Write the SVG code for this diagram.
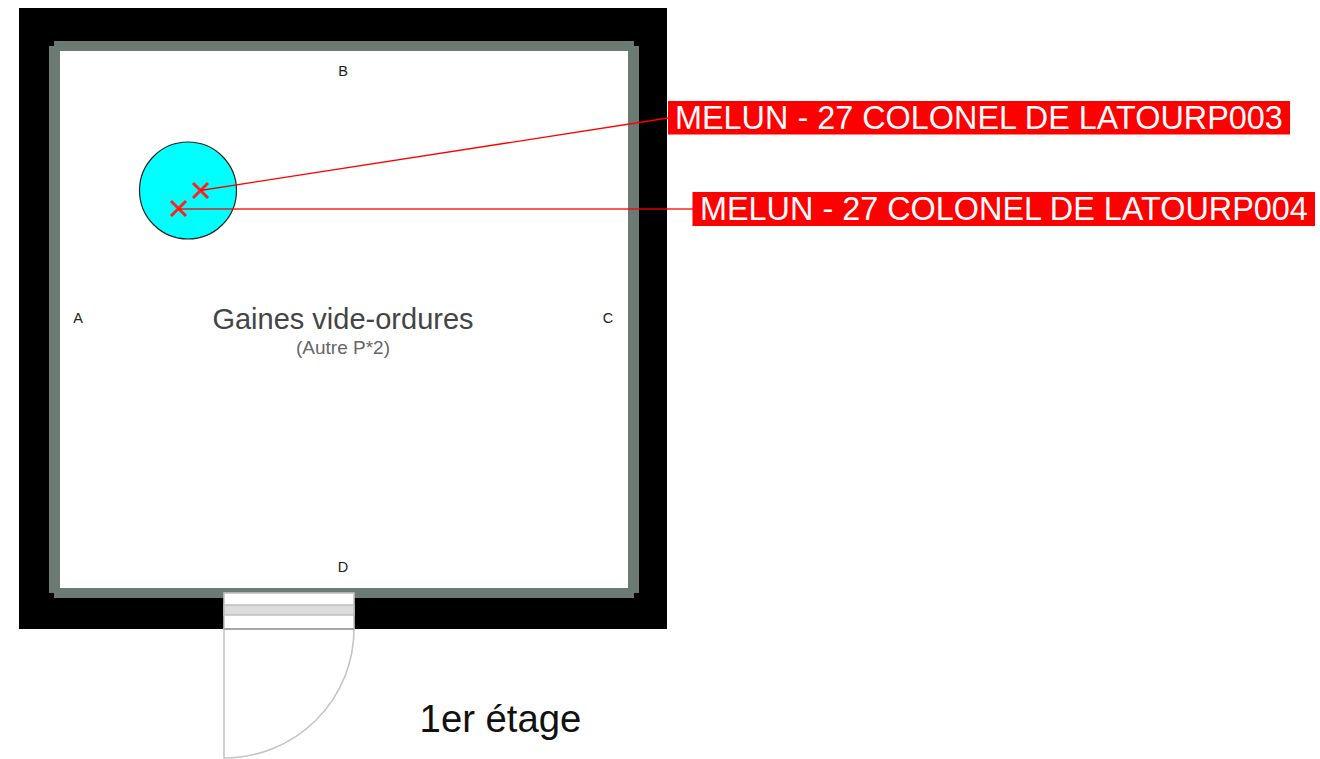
<svg xmlns="http://www.w3.org/2000/svg" width="1320" height="759" viewBox="0 0 1320 759">
<style>
text{font-family:"Liberation Sans",Arial,sans-serif}
.tag{fill:#fff;font-size:32.400px}
.wl{fill:#222;font-size:14.500px;text-anchor:middle}
.x{stroke:#f22;stroke-width:3;fill:none}
.d{stroke:#c4c4c4;stroke-width:1.600;fill:#fff}
.g{fill:#6b7a72}
</style>
<rect width="1320" height="759" fill="#fff"/>
<g id="room">
<rect x="19" y="8" width="648" height="621" fill="#000"/>
<rect x="60" y="51" width="568" height="537" fill="#fff"/>
<rect class="g" x="54" y="41" width="580" height="10"/>
<rect class="g" x="54" y="588" width="580" height="10"/>
<rect class="g" x="49" y="46" width="11" height="547"/>
<rect class="g" x="628" y="46" width="11" height="547"/>
</g>
<g id="door">
<path class="d" d="M224 629H354A130 129 0 0 1 224 758Z"/>
<rect class="d" x="224" y="593" width="130" height="36"/>
<rect x="224" y="605" width="130" height="10" fill="#dcdcdc" stroke="#bdbdbd" stroke-width="1.400"/>
<path d="M224 629H354" stroke="#a8a8a8" stroke-width="2"/>
</g>
<g id="gaine">
<circle cx="188" cy="190.500" r="48.500" fill="#0ff" stroke="#222" stroke-width="1.200"/>
<path class="x" d="M193 183l15 15M208 183l-15 15"/>
<path class="x" d="M171 201l15 15M186 201l-15 15"/>
</g>
<g id="connectors" fill="none">
<path d="M200 190.500L668 118" stroke="#f00" stroke-width="1.300"/>
<path d="M178 209H693" stroke="#f00" stroke-opacity=".65" stroke-width="1.800"/>
</g>
<g id="label-p003">
<rect x="668" y="101" width="622" height="33.500" fill="#f00"/>
<text class="tag" x="675" y="129">MELUN - 27 COLONEL DE LATOURP003</text>
</g>
<g id="label-p004">
<rect x="692.500" y="192" width="622.500" height="34" fill="#f00"/>
<text class="tag" x="700" y="220">MELUN - 27 COLONEL DE LATOURP004</text>
</g>
<g id="wall-labels">
<text class="wl" x="343" y="76">B</text>
<text class="wl" x="78" y="323">A</text>
<text class="wl" x="608" y="323">C</text>
<text class="wl" x="343" y="572">D</text>
</g>
<g id="room-name">
<text x="343" y="329" font-size="29" fill="#444" text-anchor="middle">Gaines vide-ordures</text>
<text x="343" y="354" font-size="19" fill="#666" text-anchor="middle">(Autre P*2)</text>
</g>
<text x="500.500" y="732" font-size="38.300" fill="#111" text-anchor="middle">1er étage</text>
</svg>
